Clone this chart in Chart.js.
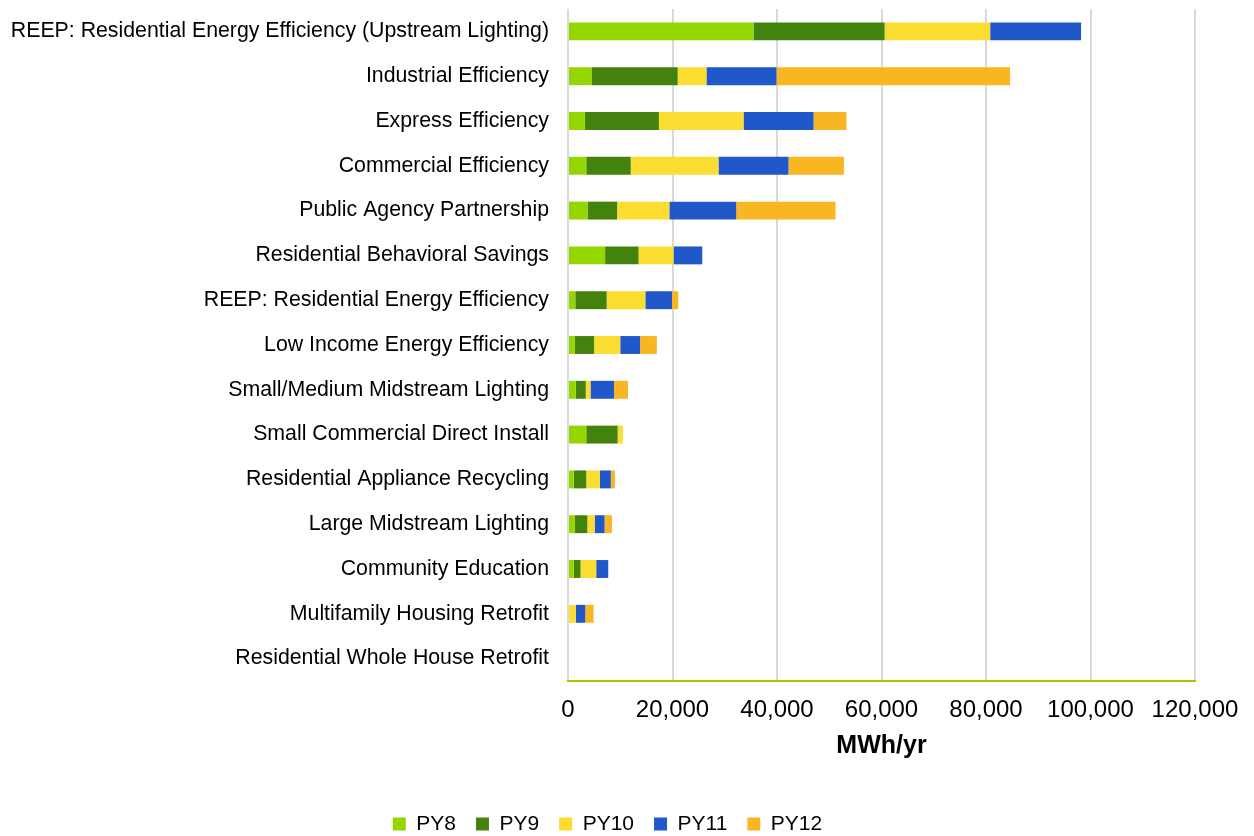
<!DOCTYPE html>
<html>
<head>
<meta charset="utf-8">
<script src="https://cdn.jsdelivr.net/npm/chart.js@4"></script>
<style>
  html, body { margin: 0; padding: 0; background: #fff; }
  #wrap { width: 1254px; height: 836px; }
</style>
</head>
<body>
<div id="wrap"><canvas id="bar-chart" width="1254" height="836"></canvas></div>
<script>
var programs = [
  'REEP: Residential Energy Efficiency (Upstream Lighting)',
  'Industrial Efficiency',
  'Express Efficiency',
  'Commercial Efficiency',
  'Public Agency Partnership',
  'Residential Behavioral Savings',
  'REEP: Residential Energy Efficiency',
  'Low Income Energy Efficiency',
  'Small/Medium Midstream Lighting',
  'Small Commercial Direct Install',
  'Residential Appliance Recycling',
  'Large Midstream Lighting',
  'Community Education',
  'Multifamily Housing Retrofit',
  'Residential Whole House Retrofit'
];

// MWh/yr by program year
var py8  = [35500, 4500, 3200, 3500, 3800, 7100, 1400, 1300, 1500, 3500, 1100, 1300, 1100, 0, 0];
var py9  = [25100, 16500, 14200, 8500, 5600, 6400, 6000, 3700, 1900, 6000, 2400, 2400, 1300, 0, 0];
var py10 = [20200, 5500, 16200, 16800, 10000, 6700, 7400, 5000, 900, 1000, 2600, 1400, 3000, 1500, 0];
var py11 = [17400, 13400, 13400, 13400, 12800, 5500, 5100, 3800, 4500, 0, 2100, 1900, 2300, 1800, 0];
var py12 = [0, 44700, 6300, 10600, 19000, 0, 1200, 3200, 2700, 0, 800, 1400, 0, 1600, 0];

var xTicks = [0, 20000, 40000, 60000, 80000, 100000, 120000];

var fontName = '"Liberation Sans", Arial, sans-serif';

new Chart(document.getElementById('bar-chart'), {
  type: 'bar',
  data: {
    labels: programs,
    datasets: [
      { label: 'PY8',  data: py8,  backgroundColor: '#95d600' },
      { label: 'PY9',  data: py9,  backgroundColor: '#43830d' },
      { label: 'PY10', data: py10, backgroundColor: '#fbdc31' },
      { label: 'PY11', data: py11, backgroundColor: '#2057c9' },
      { label: 'PY12', data: py12, backgroundColor: '#f8b622' }
    ]
  },
  options: {
    indexAxis: 'y',
    responsive: false,
    animation: false,
    devicePixelRatio: 1,
    layout: {
      padding: { top: 9, right: 49, bottom: -8.5, left: 10 }
    },
    datasets: {
      bar: { categoryPercentage: 1, barPercentage: 0.4, borderWidth: 0 }
    },
    scales: {
      x: {
        stacked: true,
        min: 0,
        max: 120000,
        afterBuildTicks: function(axis) {
          axis.ticks = xTicks.map(function(v) { return { value: v }; });
        },
        afterFit: function(s) {
          s.paddingLeft = 0;
          s.paddingRight = 59;
          s.height = 112.5;
        },
        ticks: {
          color: '#000',
          font: { family: fontName, size: 24 },
          padding: 15,
          maxRotation: 0,
          callback: function(v) { return v.toLocaleString('en-US'); }
        },
        grid: { color: '#d9d9d9', lineWidth: 2, drawTicks: false },
        border: { color: '#9acd00', width: 2 },
        title: {
          display: true,
          text: 'MWh/yr',
          color: '#000',
          font: { family: fontName, size: 25, weight: 'bold' },
          padding: { top: 6, bottom: 32 }
        }
      },
      y: {
        stacked: true,
        afterFit: function(s) {
          s.paddingTop = 0;
          s.paddingBottom = 0;
          s.width = 558;
        },
        ticks: {
          color: '#000',
          font: { family: fontName, size: 21.3 },
          padding: 19,
          autoSkip: false
        },
        grid: { display: false, drawTicks: false },
        border: { display: false }
      }
    },
    plugins: {
      legend: {
        position: 'bottom',
        labels: {
          color: '#000',
          font: { family: fontName, size: 21 },
          boxWidth: 13,
          boxHeight: 13,
          padding: 20
        }
      },
      tooltip: { enabled: false }
    }
  }
});
</script>
</body>
</html>
